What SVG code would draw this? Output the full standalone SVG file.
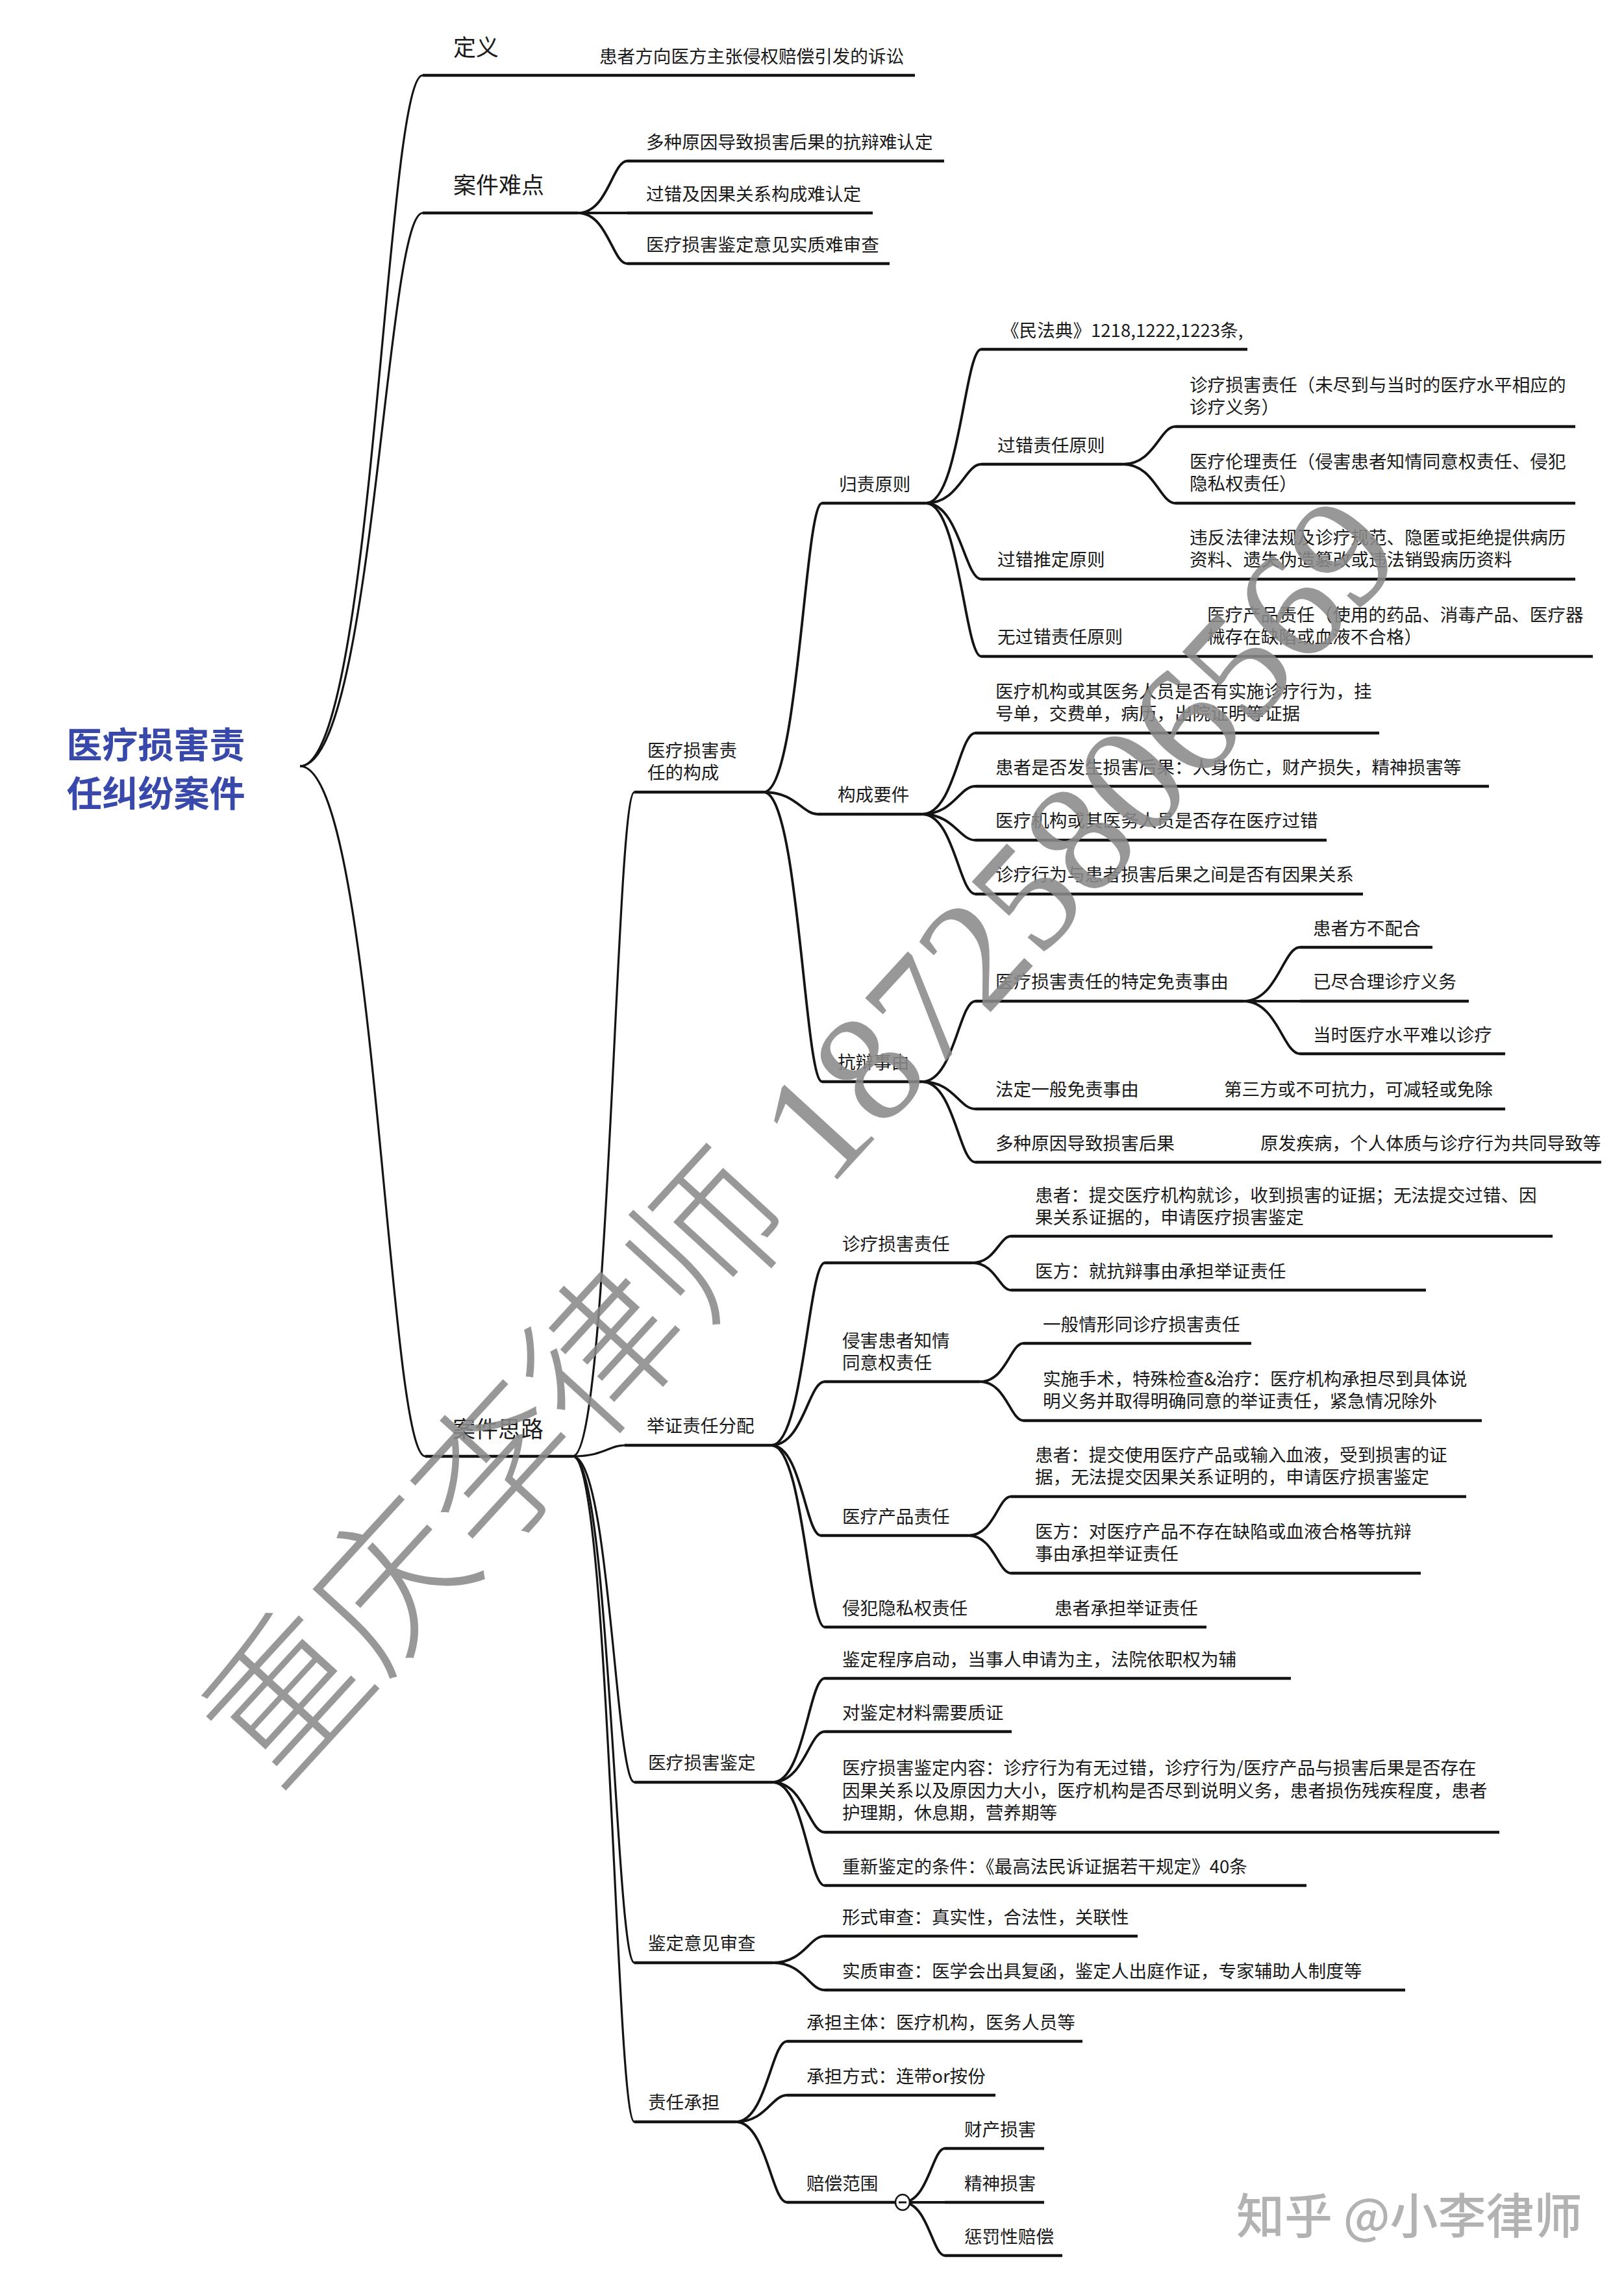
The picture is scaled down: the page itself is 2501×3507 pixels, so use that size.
<svg xmlns="http://www.w3.org/2000/svg" width="2501" height="3507" viewBox="0 0 2501 3507">
<style>
.t{font-family:"Noto Sans CJK SC","Liberation Sans",sans-serif;font-size:27.6px;fill:#1a1a1a;dominant-baseline:central}
.l1{font-size:35px}
.title{font-family:"Noto Sans CJK SC","Liberation Sans",sans-serif;font-size:55px;font-weight:bold;fill:#3949ab;text-anchor:middle;dominant-baseline:central}
.u{stroke:#141414;stroke-width:4.5;fill:none}
.c{stroke:#141414;stroke-width:3.8;fill:none}
.c0{stroke:#141414;stroke-width:3.2;fill:none}
.wm{font-family:"Liberation Serif","Noto Sans CJK SC",serif;font-size:240px;font-weight:300;fill:#8a8a8a;fill-opacity:0.88}
.zh{font-family:"Noto Sans CJK SC","Liberation Sans",sans-serif;font-size:74px;font-weight:500;fill:#b2b2b2;dominant-baseline:central}
</style>
<rect width="2501" height="3507" fill="#ffffff"/>

<g id="connectors">
<path class="c0" d="M462,1180 C575,1180 594,116 651,116"/>
<path class="c0" d="M462,1180 C575,1180 594,328 651,328"/>
<path class="c0" d="M462,1180 C578,1180 597,2243 655,2243"/>
<path class="c" d="M890,328 C936,328 943,248 966,248"/>
<path class="c" d="M890,328 L966,328"/>
<path class="c" d="M890,328 C936,328 943,406 966,406"/>
<path class="c0" d="M882,2243 C939,2243 948,1220 977,1220"/>
<path class="c0" d="M882,2243 C930,2243 938,2226 962,2226"/>
<path class="c0" d="M882,2243 C939,2243 948,2745 977,2745"/>
<path class="c0" d="M882,2243 C939,2243 948,3023 977,3023"/>
<path class="c0" d="M882,2243 C939,2243 948,3268 977,3268"/>
<path class="c" d="M1176,1220 C1230,1220 1239,775 1266,775"/>
<path class="c" d="M1176,1220 C1226,1220 1235,1254 1260,1254"/>
<path class="c" d="M1176,1220 C1230,1220 1239,1666 1266,1666"/>
<path class="c" d="M1426,775 C1477,775 1486,538 1511,538"/>
<path class="c" d="M1426,775 C1477,775 1486,715 1511,715"/>
<path class="c" d="M1426,775 C1477,775 1486,892 1511,892"/>
<path class="c" d="M1426,775 C1477,775 1486,1011 1511,1011"/>
<path class="c" d="M1729,715 C1778,715 1786,657 1810,657"/>
<path class="c" d="M1729,715 C1778,715 1786,775 1810,775"/>
<path class="c" d="M1420,1254 C1469,1254 1477,1129 1502,1129"/>
<path class="c" d="M1420,1254 C1469,1254 1477,1211 1502,1211"/>
<path class="c" d="M1420,1254 C1469,1254 1477,1294 1502,1294"/>
<path class="c" d="M1420,1254 C1469,1254 1477,1377 1502,1377"/>
<path class="c" d="M1420,1666 C1469,1666 1477,1542 1502,1542"/>
<path class="c" d="M1420,1666 C1469,1666 1477,1708 1502,1708"/>
<path class="c" d="M1420,1666 C1469,1666 1477,1790 1502,1790"/>
<path class="c" d="M1915,1542 C1967,1542 1976,1459 2002,1459"/>
<path class="c" d="M1915,1542 L2002,1542"/>
<path class="c" d="M1915,1542 C1967,1542 1976,1623 2002,1623"/>
<path class="c" d="M1188,2226 C1237,2226 1245,1945 1270,1945"/>
<path class="c" d="M1188,2226 C1237,2226 1245,2128 1270,2128"/>
<path class="c" d="M1188,2226 C1234,2226 1241,2365 1264,2365"/>
<path class="c" d="M1188,2226 C1237,2226 1245,2506 1270,2506"/>
<path class="c" d="M1497,1945 C1533,1945 1539,1904 1557,1904"/>
<path class="c" d="M1497,1945 C1533,1945 1539,1987 1557,1987"/>
<path class="c" d="M1509,2128 C1549,2128 1556,2069 1576,2069"/>
<path class="c" d="M1509,2128 C1549,2128 1556,2188 1576,2188"/>
<path class="c" d="M1491,2365 C1531,2365 1537,2305 1557,2305"/>
<path class="c" d="M1491,2365 C1531,2365 1537,2423 1557,2423"/>
<path class="c" d="M1190,2745 C1238,2745 1246,2585 1270,2585"/>
<path class="c" d="M1190,2745 C1238,2745 1246,2667 1270,2667"/>
<path class="c" d="M1190,2745 C1238,2745 1246,2822 1270,2822"/>
<path class="c" d="M1190,2745 C1238,2745 1246,2904 1270,2904"/>
<path class="c" d="M1190,3023 C1238,3023 1246,2982 1270,2982"/>
<path class="c" d="M1190,3023 C1238,3023 1246,3065 1270,3065"/>
<path class="c" d="M1133,3268 C1180,3268 1188,3144 1212,3144"/>
<path class="c" d="M1133,3268 C1180,3268 1188,3227 1212,3227"/>
<path class="c" d="M1133,3268 C1180,3268 1188,3392 1212,3392"/>
<path class="c" d="M1390,3392 C1429,3392 1436,3309 1455,3309"/>
<path class="c" d="M1390,3392 L1455,3392"/>
<path class="c" d="M1390,3392 C1429,3392 1436,3474 1455,3474"/>
</g>

<g id="root"><text class="title" x="240" y="1143">医疗损害责</text><text class="title" x="240" y="1218">任纠纷案件</text></g>

<g id="n-dingyi"><line class="u" x1="651" y1="116" x2="895" y2="116"/><text class="t l1" x="698" y="70">定义</text></g>
<g id="n-dingyi-1"><line class="u" x1="895" y1="116" x2="1409" y2="116"/><text class="t" x="923" y="85">患者方向医方主张侵权赔偿引发的诉讼</text></g>

<g id="n-nandian"><line class="u" x1="651" y1="328" x2="890" y2="328"/><text class="t l1" x="698" y="282">案件难点</text></g>
<g id="n-nandian-1"><line class="u" x1="966" y1="248" x2="1454" y2="248"/><text class="t" x="995" y="217">多种原因导致损害后果的抗辩难认定</text></g>
<g id="n-nandian-2"><line class="u" x1="966" y1="328" x2="1344" y2="328"/><text class="t" x="995" y="297">过错及因果关系构成难认定</text></g>
<g id="n-nandian-3"><line class="u" x1="966" y1="406" x2="1370" y2="406"/><text class="t" x="995" y="375">医疗损害鉴定意见实质难审查</text></g>

<g id="n-silu"><line class="u" x1="655" y1="2243" x2="882" y2="2243"/><text class="t l1" x="697" y="2198">案件思路</text></g>

<g id="n-goucheng"><line class="u" x1="977" y1="1220" x2="1176" y2="1220"/><text class="t" x="997" y="1154">医疗损害责</text><text class="t" x="997" y="1188">任的构成</text></g>

<g id="n-guize"><line class="u" x1="1266" y1="775" x2="1426" y2="775"/><text class="t" x="1292" y="744">归责原则</text></g>
<g id="n-minfadian"><line class="u" x1="1511" y1="538" x2="1921" y2="538"/><text class="t" x="1542" y="507">《民法典》1218,1222,1223条,</text></g>
<g id="n-guocuo"><line class="u" x1="1511" y1="715" x2="1729" y2="715"/><text class="t" x="1536" y="684">过错责任原则</text></g>
<g id="n-guocuo-1"><line class="u" x1="1810" y1="657" x2="2426" y2="657"/><text class="t" x="1832" y="591">诊疗损害责任（未尽到与当时的医疗水平相应的</text><text class="t" x="1832" y="625">诊疗义务）</text></g>
<g id="n-guocuo-2"><line class="u" x1="1810" y1="775" x2="2426" y2="775"/><text class="t" x="1832" y="709">医疗伦理责任（侵害患者知情同意权责任、侵犯</text><text class="t" x="1832" y="743">隐私权责任）</text></g>
<g id="n-tuiding"><line class="u" x1="1511" y1="892" x2="1810" y2="892"/><text class="t" x="1536" y="860">过错推定原则</text></g>
<g id="n-tuiding-1"><line class="u" x1="1810" y1="892" x2="2426" y2="892"/><text class="t" x="1832" y="826">违反法律法规及诊疗规范、隐匿或拒绝提供病历</text><text class="t" x="1832" y="860">资料、遗失伪造篡改或违法销毁病历资料</text></g>
<g id="n-wuguocuo"><line class="u" x1="1511" y1="1011" x2="1835" y2="1011"/><text class="t" x="1536" y="979">无过错责任原则</text></g>
<g id="n-wuguocuo-1"><line class="u" x1="1835" y1="1011" x2="2453" y2="1011"/><text class="t" x="1859" y="945">医疗产品责任（使用的药品、消毒产品、医疗器</text><text class="t" x="1859" y="979">械存在缺陷或血液不合格）</text></g>

<g id="n-yaojian"><line class="u" x1="1260" y1="1254" x2="1420" y2="1254"/><text class="t" x="1290" y="1222">构成要件</text></g>
<g id="n-yaojian-1"><line class="u" x1="1502" y1="1129" x2="2124" y2="1129"/><text class="t" x="1533" y="1063">医疗机构或其医务人员是否有实施诊疗行为，挂</text><text class="t" x="1533" y="1097">号单，交费单，病历，出院证明等证据</text></g>
<g id="n-yaojian-2"><line class="u" x1="1502" y1="1211" x2="2293" y2="1211"/><text class="t" x="1533" y="1180">患者是否发生损害后果：人身伤亡，财产损失，精神损害等</text></g>
<g id="n-yaojian-3"><line class="u" x1="1502" y1="1294" x2="2043" y2="1294"/><text class="t" x="1533" y="1262">医疗机构或其医务人员是否存在医疗过错</text></g>
<g id="n-yaojian-4"><line class="u" x1="1502" y1="1377" x2="2099" y2="1377"/><text class="t" x="1533" y="1345">诊疗行为与患者损害后果之间是否有因果关系</text></g>

<g id="n-kangbian"><line class="u" x1="1266" y1="1666" x2="1420" y2="1666"/><text class="t" x="1290" y="1634">抗辩事由</text></g>
<g id="n-teding"><line class="u" x1="1502" y1="1542" x2="1915" y2="1542"/><text class="t" x="1533" y="1510">医疗损害责任的特定免责事由</text></g>
<g id="n-teding-1"><line class="u" x1="2002" y1="1459" x2="2206" y2="1459"/><text class="t" x="2022" y="1428">患者方不配合</text></g>
<g id="n-teding-2"><line class="u" x1="2002" y1="1542" x2="2262" y2="1542"/><text class="t" x="2022" y="1510">已尽合理诊疗义务</text></g>
<g id="n-teding-3"><line class="u" x1="2002" y1="1623" x2="2318" y2="1623"/><text class="t" x="2022" y="1592">当时医疗水平难以诊疗</text></g>
<g id="n-fading"><line class="u" x1="1502" y1="1708" x2="1860" y2="1708"/><text class="t" x="1533" y="1676">法定一般免责事由</text></g>
<g id="n-fading-1"><line class="u" x1="1860" y1="1708" x2="2318" y2="1708"/><text class="t" x="1885" y="1676">第三方或不可抗力，可减轻或免除</text></g>
<g id="n-duozhong"><line class="u" x1="1502" y1="1790" x2="1915" y2="1790"/><text class="t" x="1533" y="1759">多种原因导致损害后果</text></g>
<g id="n-duozhong-1"><line class="u" x1="1915" y1="1790" x2="2466" y2="1790"/><text class="t" x="1941" y="1759">原发疾病，个人体质与诊疗行为共同导致等</text></g>

<g id="n-juzheng"><line class="u" x1="962" y1="2226" x2="1188" y2="2226"/><text class="t" x="996" y="2194">举证责任分配</text></g>
<g id="n-zhenliao"><line class="u" x1="1270" y1="1945" x2="1497" y2="1945"/><text class="t" x="1297" y="1914">诊疗损害责任</text></g>
<g id="n-zhenliao-1"><line class="u" x1="1557" y1="1904" x2="2391" y2="1904"/><text class="t" x="1594" y="1839">患者：提交医疗机构就诊，收到损害的证据；无法提交过错、因</text><text class="t" x="1594" y="1873">果关系证据的，申请医疗损害鉴定</text></g>
<g id="n-zhenliao-2"><line class="u" x1="1557" y1="1987" x2="2196" y2="1987"/><text class="t" x="1594" y="1956">医方：就抗辩事由承担举证责任</text></g>
<g id="n-zhiqing"><line class="u" x1="1270" y1="2128" x2="1509" y2="2128"/><text class="t" x="1297" y="2063">侵害患者知情</text><text class="t" x="1297" y="2097">同意权责任</text></g>
<g id="n-zhiqing-1"><line class="u" x1="1576" y1="2069" x2="1927" y2="2069"/><text class="t" x="1606" y="2038">一般情形同诊疗损害责任</text></g>
<g id="n-zhiqing-2"><line class="u" x1="1576" y1="2188" x2="2282" y2="2188"/><text class="t" x="1606" y="2122">实施手术，特殊检查&amp;治疗：医疗机构承担尽到具体说</text><text class="t" x="1606" y="2156">明义务并取得明确同意的举证责任，紧急情况除外</text></g>
<g id="n-chanpin"><line class="u" x1="1264" y1="2365" x2="1491" y2="2365"/><text class="t" x="1297" y="2334">医疗产品责任</text></g>
<g id="n-chanpin-1"><line class="u" x1="1557" y1="2305" x2="2258" y2="2305"/><text class="t" x="1594" y="2239">患者：提交使用医疗产品或输入血液，受到损害的证</text><text class="t" x="1594" y="2273">据，无法提交因果关系证明的，申请医疗损害鉴定</text></g>
<g id="n-chanpin-2"><line class="u" x1="1557" y1="2423" x2="2188" y2="2423"/><text class="t" x="1594" y="2357">医方：对医疗产品不存在缺陷或血液合格等抗辩</text><text class="t" x="1594" y="2391">事由承担举证责任</text></g>
<g id="n-yinsi"><line class="u" x1="1270" y1="2506" x2="1596" y2="2506"/><text class="t" x="1297" y="2475">侵犯隐私权责任</text></g>
<g id="n-yinsi-1"><line class="u" x1="1596" y1="2506" x2="1858" y2="2506"/><text class="t" x="1624" y="2475">患者承担举证责任</text></g>

<g id="n-jianding"><line class="u" x1="977" y1="2745" x2="1190" y2="2745"/><text class="t" x="998" y="2713">医疗损害鉴定</text></g>
<g id="n-jianding-1"><line class="u" x1="1270" y1="2585" x2="1988" y2="2585"/><text class="t" x="1297" y="2554">鉴定程序启动，当事人申请为主，法院依职权为辅</text></g>
<g id="n-jianding-2"><line class="u" x1="1270" y1="2667" x2="1558" y2="2667"/><text class="t" x="1297" y="2636">对鉴定材料需要质证</text></g>
<g id="n-jianding-3"><line class="u" x1="1270" y1="2822" x2="2309" y2="2822"/><text class="t" x="1297" y="2721">医疗损害鉴定内容：诊疗行为有无过错，诊疗行为/医疗产品与损害后果是否存在</text><text class="t" x="1297" y="2756">因果关系以及原因力大小，医疗机构是否尽到说明义务，患者损伤残疾程度，患者</text><text class="t" x="1297" y="2790">护理期，休息期，营养期等</text></g>
<g id="n-jianding-4"><line class="u" x1="1270" y1="2904" x2="2012" y2="2904"/><text class="t" x="1297" y="2873">重新鉴定的条件：《最高法民诉证据若干规定》40条</text></g>

<g id="n-shencha"><line class="u" x1="977" y1="3023" x2="1190" y2="3023"/><text class="t" x="998" y="2991">鉴定意见审查</text></g>
<g id="n-shencha-1"><line class="u" x1="1270" y1="2982" x2="1752" y2="2982"/><text class="t" x="1297" y="2951">形式审查：真实性，合法性，关联性</text></g>
<g id="n-shencha-2"><line class="u" x1="1270" y1="3065" x2="2164" y2="3065"/><text class="t" x="1297" y="3034">实质审查：医学会出具复函，鉴定人出庭作证，专家辅助人制度等</text></g>

<g id="n-chengdan"><line class="u" x1="977" y1="3268" x2="1133" y2="3268"/><text class="t" x="998" y="3236">责任承担</text></g>
<g id="n-chengdan-1"><line class="u" x1="1212" y1="3144" x2="1667" y2="3144"/><text class="t" x="1242" y="3113">承担主体：医疗机构，医务人员等</text></g>
<g id="n-chengdan-2"><line class="u" x1="1212" y1="3227" x2="1533" y2="3227"/><text class="t" x="1242" y="3196">承担方式：连带or按份</text></g>
<g id="n-peichang"><line class="u" x1="1212" y1="3392" x2="1378" y2="3392"/><text class="t" x="1242" y="3361">赔偿范围</text><ellipse cx="1390" cy="3392" rx="11" ry="12" fill="#ffffff" stroke="#141414" stroke-width="2.5"/><line x1="1384" y1="3392" x2="1396" y2="3392" stroke="#141414" stroke-width="3"/></g>
<g id="n-peichang-1"><line class="u" x1="1455" y1="3309" x2="1608" y2="3309"/><text class="t" x="1485" y="3278">财产损害</text></g>
<g id="n-peichang-2"><line class="u" x1="1455" y1="3392" x2="1608" y2="3392"/><text class="t" x="1485" y="3361">精神损害</text></g>
<g id="n-peichang-3"><line class="u" x1="1455" y1="3474" x2="1636" y2="3474"/><text class="t" x="1485" y="3443">惩罚性赔偿</text></g>

<g id="watermarks">
<text class="wm" x="424" y="2761" transform="rotate(-47.5 424 2761)">重庆李律师 18725806569</text>
<text class="zh" x="1904" y="3407">知乎 @小李律师</text>
</g>
</svg>
